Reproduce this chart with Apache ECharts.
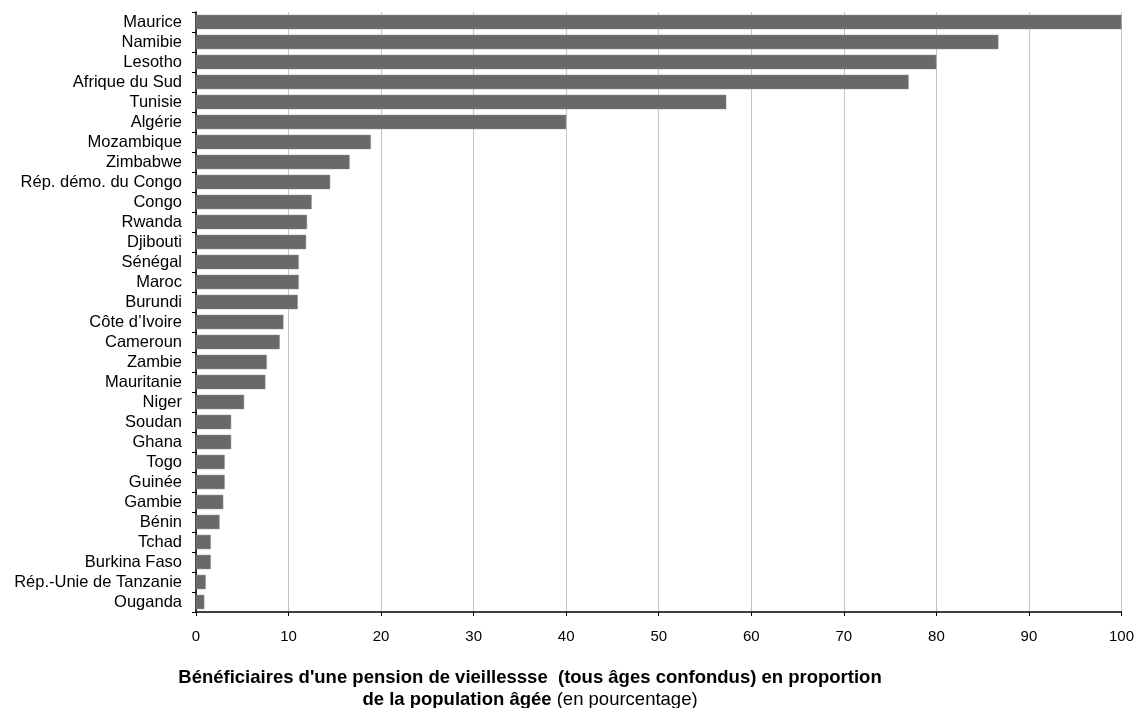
<!DOCTYPE html>
<html><head><meta charset="utf-8">
<script src="https://cdn.jsdelivr.net/npm/echarts@6/dist/echarts.min.js"></script>
<style>html,body{margin:0;padding:0;background:#fff}#c{width:1137px;height:708px}</style>
</head><body><div id="c"></div>
<script>
const categories = ["Maurice","Namibie","Lesotho","Afrique du Sud","Tunisie","Algérie","Mozambique","Zimbabwe","Rép. démo. du Congo","Congo","Rwanda","Djibouti","Sénégal","Maroc","Burundi","Côte d’Ivoire","Cameroun","Zambie","Mauritanie","Niger","Soudan","Ghana","Togo","Guinée","Gambie","Bénin","Tchad","Burkina Faso","Rép.-Unie de Tanzanie","Ouganda"];
const values = [100,86.7,80,77,57.3,40,18.9,16.6,14.5,12.5,12.0,11.9,11.1,11.1,11.0,9.45,9.05,7.65,7.5,5.2,3.8,3.8,3.1,3.1,2.95,2.55,1.6,1.6,1.05,0.9];
const xTicks = {min:0, max:100, interval:10};
const titleLine1 = "Bénéficiaires d'une pension de vieillessse  (tous âges confondus) en proportion";
const titleLine2Bold = "de la population âgée";
const titleLine2Normal = " (en pourcentage)";

const chart = echarts.init(document.getElementById('c'));
const font = "'Liberation Sans', Arial, sans-serif";
chart.setOption({
  animation:false,
  textStyle:{fontFamily:font},
  grid:{left:196,right:13,top:12,bottom:96,containLabel:false},
  title:{
    left:525, textAlign:'center', top:662,
    text:'{b|'+titleLine1+'}\n{b|'+titleLine2Bold+'}{n|'+titleLine2Normal+'}',
    textStyle:{rich:{
      b:{fontFamily:font,fontWeight:'bold',fontSize:18.5,color:'#000',lineHeight:22},
      n:{fontFamily:font,fontWeight:'normal',fontSize:18.5,color:'#000',lineHeight:22}
    }}
  },
  xAxis:{
    type:'value', min:xTicks.min, max:xTicks.max, interval:xTicks.interval,
    axisLine:{show:true,lineStyle:{color:'#000',width:1.5}},
    axisTick:{show:true,length:4,lineStyle:{color:'#000'}},
    axisLabel:{color:'#000',fontSize:15,margin:17,fontFamily:font},
    splitLine:{show:true,lineStyle:{color:'#c4c4c4',width:1}}
  },
  yAxis:{
    type:'category', data:categories, inverse:true,
    axisLine:{show:true,lineStyle:{color:'#000',width:1.5}},
    axisTick:{show:true,length:4,inside:false,interval:0,lineStyle:{color:'#000'}},
    axisLabel:{color:'#000',fontSize:16.5,margin:14,interval:0,fontFamily:font},
    splitLine:{show:false}
  },
  series:[{
    type:'bar', data:values, barCategoryGap:'28%',
    itemStyle:{color:'#696969',borderColor:'#8a8a8a',borderWidth:0.5}
  }]
});
</script></body></html>
